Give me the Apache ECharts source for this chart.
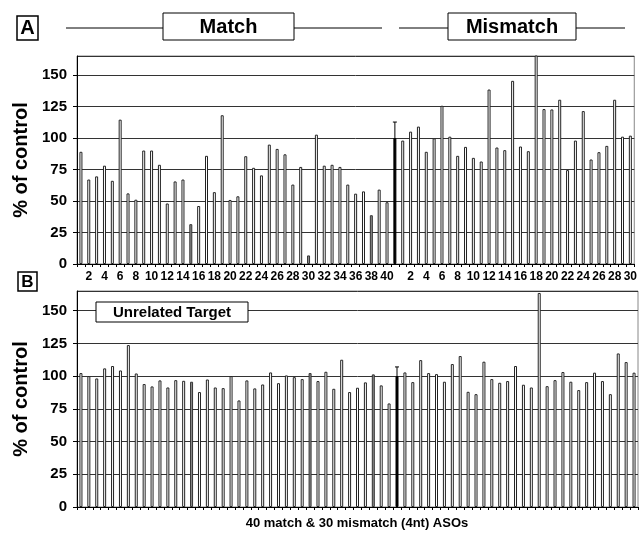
<!DOCTYPE html>
<html>
<head>
<meta charset="utf-8">
<script src="https://cdn.jsdelivr.net/npm/echarts@6/dist/echarts.min.js"></script>
<style>html,body{margin:0;padding:0;background:#fff}#c{width:640px;height:533px}</style>
</head>
<body>
<div id="c"></div>
<script>
// ---- data ----
const matchNames = ['1','2','3','4','5','6','7','8','9','10','11','12','13','14','15','16','17','18','19','20','21','22','23','24','25','26','27','28','29','30','31','32','33','34','35','36','37','38','39','40'];
const mismatchNames = ['1','2','3','4','5','6','7','8','9','10','11','12','13','14','15','16','17','18','19','20','21','22','23','24','25','26','27','28','29','30'];
const yTicks = [0,25,50,75,100,125,150];

const matchA = [89,67,69.5,78,66,114.5,56,51,90,90,78.7,48,65.5,67,31.6,46,85.8,57,118,50.8,53.7,85.5,76.3,70.3,94.7,91.3,87,63,77,6.8,102.6,78,78.7,77,63,55.8,57.6,38.7,59,49];
const controlA = 100;
const errTopA = 112.6;
const mismatchA = [97.9,105,109,89,99.7,125.5,101,85.8,92.9,84.2,81.3,138.4,92.4,90.3,145.3,93.2,89.5,170,122.9,122.6,130.3,74.5,97.9,121.3,82.9,88.7,93.7,130.3,101,101.8];

const matchB = [102.3,100,98.2,105.9,107.7,104.3,123.7,102,93.9,92.1,96.7,91.3,96.9,96.4,95.7,87.8,97.4,91.3,90.8,100,81.4,96.7,90.6,93.6,102.8,94.6,100.5,99.2,97.7,102.3,96.2,103.3,90.3,112.5,87.8,91.1,95.2,101.3,92.9,79.1];
const controlB = 100;
const errTopB = 107;
const mismatchB = [102.8,95.4,112.2,102.3,101.5,95.7,109.2,115.3,88,86.2,111,97.7,94.9,96.2,107.7,93.4,91.3,163.5,92.3,96.9,103.1,95.7,89.3,95.4,102.6,96.2,86.2,117.3,110.7,102.6];

const highlightedMatch = ['15','30','38'];

// ---- build ----
const categories = matchNames.map(n => 'Match ' + n).concat(['Control'], mismatchNames.map(n => 'Mismatch ' + n));
const FONT = 'Liberation Sans, Arial, sans-serif';

function buildBars(match, control, mismatch) {
  const out = [];
  match.forEach((v, i) => {
    if (highlightedMatch.includes(matchNames[i])) {
      out.push({ value: v, itemStyle: { color: '#8c8c8c', borderColor: '#333' } });
    } else out.push(v);
  });
  out.push({ value: control, itemStyle: { color: '#000', borderColor: '#000' } });
  mismatch.forEach(v => out.push(v));
  return out;
}

function errRender(params, api) {
  const base = api.coord([api.value(0), api.value(1)]);
  const top = api.coord([api.value(0), api.value(2)]);
  return { type: 'group', children: [
    { type: 'line', shape: { x1: base[0], y1: base[1], x2: top[0], y2: top[1] }, style: { stroke: '#000', lineWidth: 1 } },
    { type: 'line', shape: { x1: top[0] - 2, y1: top[1], x2: top[0] + 2, y2: top[1] }, style: { stroke: '#000', lineWidth: 1 } }
  ]};
}

const grids = [
  { left: 77, right: 2, top: 56, height: 208, show: true, borderColor: '#888', borderWidth: 1 },
  { left: 77, right: 2, top: 291, height: 216, show: true, borderColor: '#888', borderWidth: 1 }
];

function xAxis(gi, showLabels) {
  return {
    type: 'category', gridIndex: gi, data: categories,
    axisLine: { lineStyle: { color: '#000', width: 1 } },
    axisTick: { show: true, interval: 0, length: 3, lineStyle: { color: '#000' } },
    axisLabel: {
      show: showLabels, interval: 0, margin: 7, color: '#000', fontFamily: FONT, fontWeight: 'bold', fontSize: 12,
      formatter: (v) => { const p = v.split(' '); const n = p[1]; return n && (+n) % 2 === 0 ? n : ''; }
    }
  };
}
function yAxis(gi) {
  return {
    type: 'value', gridIndex: gi, min: yTicks[0], max: 165, interval: 25,
    name: '% of control', nameLocation: 'middle', nameGap: 45, nameRotate: 90,
    nameTextStyle: { fontFamily: FONT, fontWeight: 'bold', fontSize: 20, color: '#000' },
    axisLine: { show: true, lineStyle: { color: '#000' } },
    axisTick: { show: true, length: 4, lineStyle: { color: '#000' } },
    axisLabel: { showMaxLabel: false, color: '#000', fontFamily: FONT, fontWeight: 'bold', fontSize: 15, margin: 10,
      formatter: v => yTicks.includes(v) ? String(v) : '' },
    splitLine: { lineStyle: { color: '#333', width: 1 } }
  };
}

const barCommon = {
  type: 'bar', barWidth: 3, clip: true, silent: true, animation: false,
  itemStyle: { color: '#fff', borderColor: '#222', borderWidth: 1 }
};

const option = {
  animation: false,
  grid: grids,
  xAxis: [xAxis(0, true), xAxis(1, false)],
  yAxis: [yAxis(0), yAxis(1)],
  series: [
    Object.assign({}, barCommon, { xAxisIndex: 0, yAxisIndex: 0, data: buildBars(matchA, controlA, mismatchA) }),
    Object.assign({}, barCommon, { xAxisIndex: 1, yAxisIndex: 1, data: buildBars(matchB, controlB, mismatchB) }),
    { type: 'custom', xAxisIndex: 0, yAxisIndex: 0, renderItem: errRender, data: [[matchA.length, controlA, errTopA]], z: 5, silent: true },
    { type: 'custom', xAxisIndex: 1, yAxisIndex: 1, renderItem: errRender, data: [[matchB.length, controlB, errTopB]], z: 5, silent: true }
  ],
  graphic: [
    // A label
    { type: 'rect', shape: { x: 17, y: 16, width: 21, height: 24 }, style: { fill: '#fff', stroke: '#000', lineWidth: 1.5 } },
    { type: 'text', x: 27.5, y: 28.5, style: { text: 'A', font: 'bold 20px ' + FONT, fill: '#000', align: 'center', verticalAlign: 'middle' } },
    // Match header
    { type: 'line', shape: { x1: 66, y1: 28, x2: 163, y2: 28 }, style: { stroke: '#000', lineWidth: 1 } },
    { type: 'rect', shape: { x: 163, y: 13, width: 131, height: 27 }, style: { fill: '#fff', stroke: '#000', lineWidth: 1 } },
    { type: 'text', x: 228.5, y: 27, style: { text: 'Match', font: 'bold 20px ' + FONT, fill: '#000', align: 'center', verticalAlign: 'middle' } },
    { type: 'line', shape: { x1: 294, y1: 28, x2: 382, y2: 28 }, style: { stroke: '#000', lineWidth: 1 } },
    // Mismatch header
    { type: 'line', shape: { x1: 399, y1: 28, x2: 448, y2: 28 }, style: { stroke: '#000', lineWidth: 1 } },
    { type: 'rect', shape: { x: 448, y: 13, width: 128, height: 27 }, style: { fill: '#fff', stroke: '#000', lineWidth: 1 } },
    { type: 'text', x: 512, y: 27, style: { text: 'Mismatch', font: 'bold 20px ' + FONT, fill: '#000', align: 'center', verticalAlign: 'middle' } },
    { type: 'line', shape: { x1: 576, y1: 28, x2: 625, y2: 28 }, style: { stroke: '#000', lineWidth: 1 } },
    // B label
    { type: 'rect', shape: { x: 18, y: 272, width: 19, height: 19 }, style: { fill: '#fff', stroke: '#000', lineWidth: 1.5 } },
    { type: 'text', x: 27.5, y: 282, style: { text: 'B', font: 'bold 17px ' + FONT, fill: '#000', align: 'center', verticalAlign: 'middle' } },
    // Unrelated Target
    { type: 'rect', shape: { x: 96, y: 302, width: 152, height: 20 }, style: { fill: '#fff', stroke: '#000', lineWidth: 1 }, z: 100 },
    { type: 'text', x: 172, y: 312.5, style: { text: 'Unrelated Target', font: 'bold 15px ' + FONT, fill: '#000', align: 'center', verticalAlign: 'middle' }, z: 101 },
    // x-axis title
    { type: 'text', x: 357, y: 523, style: { text: '40 match & 30 mismatch (4nt) ASOs', font: 'bold 13px ' + FONT, fill: '#000', align: 'center', verticalAlign: 'middle' } }
  ]
};

const chart = echarts.init(document.getElementById('c'), null, { renderer: 'canvas' });
chart.setOption(option);
</script>
</body>
</html>
